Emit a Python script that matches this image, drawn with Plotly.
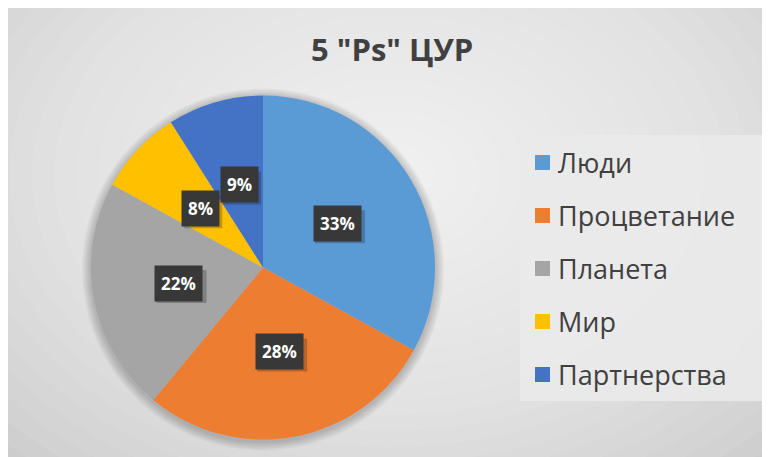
import math
import plotly.graph_objects as go

# ---- data ----
labels = ["Люди", "Процветание", "Планета", "Мир", "Партнерства"]
values = [33, 28, 22, 8, 9]
colors = ["#5B9BD5", "#ED7D31", "#A5A5A5", "#FFC000", "#4472C4"]
title_text = '5 "Ps" ЦУР'

W, H = 770, 457
OFF = 8  # page body margin offset
CX, CY, R = 263 - OFF, 267.5 - OFF, 172


def px(x):
    return x / W


def py(y):
    return 1 - y / H


shapes = []
# radial background glow
N = 25
gx, gy = 390 - OFF, 175 - OFF
for k in range(N, 0, -1):
    rx = 560 * k / N
    ry = 400 * k / N
    shapes.append(dict(type="circle", xref="paper", yref="paper",
                       x0=px(gx - rx), x1=px(gx + rx), y0=py(gy + ry), y1=py(gy - ry),
                       fillcolor="white", opacity=0.064, line_width=0, layer="below"))
# soft pie shadow
for i in range(6, 0, -1):
    rr = R + i * 1.5
    shapes.append(dict(type="circle", xref="paper", yref="paper",
                       x0=px(CX - rr), x1=px(CX + rr), y0=py(CY + 2 + rr), y1=py(CY + 2 - rr),
                       fillcolor="black", opacity=0.035, line_width=0, layer="below"))

# legend box
LX0, LX1, LY0, LY1 = 520 - OFF, 767 - OFF, 135 - OFF, 401 - OFF
shapes.append(dict(type="rect", xref="paper", yref="paper", x0=px(LX0), x1=px(LX1),
                   y0=py(LY1), y1=py(LY0), fillcolor="#eaeaea", opacity=0.9,
                   line_width=0, layer="below"))

annotations = []
# legend entries
row0, gap = 162.5 - OFF, 53
for i, (lab, col) in enumerate(zip(labels, colors)):
    yc = row0 + i * gap
    shapes.append(dict(type="rect", xref="paper", yref="paper", x0=px(535 - OFF), x1=px(550 - OFF),
                       y0=py(yc + 7.5), y1=py(yc - 7.5), fillcolor=col, line_width=0))
    annotations.append(dict(text=lab, xref="paper", yref="paper", x=px(556 - OFF), y=py(yc),
                            xanchor="left", yanchor="middle", showarrow=False,
                            font=dict(family="Open Sans", size=27, color="#404040")))

# data labels (dark boxes) placed at half radius of each slice's mid angle
total = sum(values)
cum = 0
for v in values:
    mid = (cum + v / 2) / total * 2 * math.pi
    cum += v
    lx = CX + 0.5 * R * math.sin(mid)
    ly = CY - 0.5 * R * math.cos(mid)
    pct = f"{round(v / total * 100)}%"
    bw = 50 if len(pct) > 2 else 38
    shapes.append(dict(type="rect", xref="paper", yref="paper", layer="above",
                       x0=px(lx - bw / 2 + 3), x1=px(lx + bw / 2 + 3),
                       y0=py(ly + 16.5 + 3), y1=py(ly - 16.5 + 3),
                       fillcolor="black", opacity=0.22, line_width=0))
    annotations.append(dict(text=pct, xref="paper", yref="paper", x=px(lx), y=py(ly),
                            xanchor="center", yanchor="middle", showarrow=False,
                            bgcolor="#383838", borderpad=6,
                            font=dict(family="Open Sans", size=17, color="white", weight="bold")))

# title
annotations.append(dict(text=title_text, xref="paper", yref="paper", x=px(392 - OFF), y=py(49 - OFF),
                        xanchor="center", yanchor="middle", showarrow=False,
                        font=dict(family="Open Sans", size=31, color="#404040", weight="bold")))

fig = go.Figure(go.Pie(
    labels=labels, values=values, sort=False, direction="clockwise", rotation=0,
    marker=dict(colors=colors, line=dict(width=0)),
    textinfo="none", hoverinfo="label+percent",
    domain=dict(x=[px(CX - R), px(CX + R)], y=[py(CY + R), py(CY - R)]),
))

fig.update_layout(
    width=W, height=H, margin=dict(l=0, r=0, t=0, b=0),
    paper_bgcolor="#c9c9c9", plot_bgcolor="#c9c9c9",
    showlegend=False, shapes=shapes, annotations=annotations,
)

fig.write_html("out.html")
